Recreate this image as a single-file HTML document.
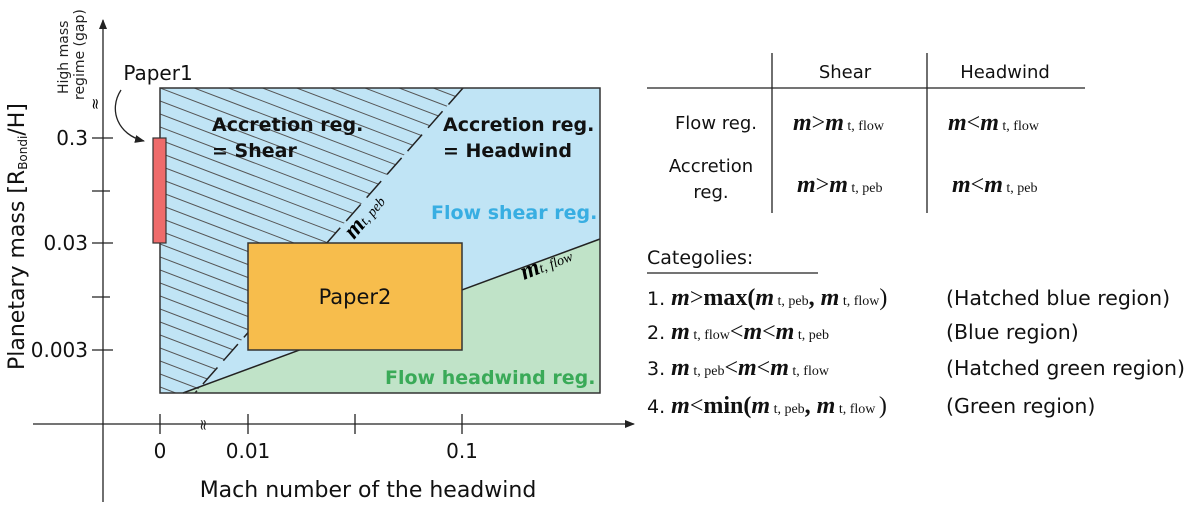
<!DOCTYPE html>
<html><head><meta charset="utf-8"><style>
html,body{margin:0;padding:0;background:#fff;}
svg{display:block;}
.s{font-family:"DejaVu Sans","Liberation Sans",sans-serif;}
.m{font-family:"Liberation Serif",serif;font-style:italic;font-weight:bold;}
.r{font-family:"Liberation Serif",serif;}
</style></head><body>
<svg width="1200" height="509" viewBox="0 0 1200 509" xmlns="http://www.w3.org/2000/svg">
<defs>
<clipPath id="hc"><polygon points="160,88 463,88 195,393 160,393"/></clipPath>
<marker id="ar" markerWidth="10" markerHeight="10" refX="9" refY="5" orient="auto" markerUnits="userSpaceOnUse"><path d="M0,1 L10,5 L0,9 z" fill="#222"/></marker>
</defs>
<rect x="160" y="88" width="440" height="305" fill="#c0e4f5"/>
<polygon points="183,393 600,239 600,393" fill="#c0e3c8"/>
<g clip-path="url(#hc)" stroke="#555" stroke-width="1">
<line x1="160" y1="62" x2="520" y2="199"/><line x1="160" y1="75" x2="520" y2="212"/><line x1="160" y1="88" x2="520" y2="225"/><line x1="160" y1="101" x2="520" y2="238"/><line x1="160" y1="114" x2="520" y2="251"/><line x1="160" y1="127" x2="520" y2="264"/><line x1="160" y1="140" x2="520" y2="277"/><line x1="160" y1="153" x2="520" y2="290"/><line x1="160" y1="166" x2="520" y2="303"/><line x1="160" y1="179" x2="520" y2="316"/><line x1="160" y1="192" x2="520" y2="329"/><line x1="160" y1="205" x2="520" y2="342"/><line x1="160" y1="218" x2="520" y2="355"/><line x1="160" y1="231" x2="520" y2="368"/><line x1="160" y1="244" x2="520" y2="381"/><line x1="160" y1="257" x2="520" y2="394"/><line x1="160" y1="270" x2="520" y2="407"/><line x1="160" y1="283" x2="520" y2="420"/><line x1="160" y1="296" x2="520" y2="433"/><line x1="160" y1="309" x2="520" y2="446"/><line x1="160" y1="322" x2="520" y2="459"/><line x1="160" y1="335" x2="520" y2="472"/><line x1="160" y1="348" x2="520" y2="485"/><line x1="160" y1="361" x2="520" y2="498"/><line x1="160" y1="374" x2="520" y2="511"/><line x1="160" y1="387" x2="520" y2="524"/><line x1="160" y1="49" x2="520" y2="186"/><line x1="160" y1="36" x2="520" y2="173"/><line x1="160" y1="23" x2="520" y2="160"/><line x1="160" y1="10" x2="520" y2="147"/><line x1="160" y1="-3" x2="520" y2="134"/><line x1="160" y1="-16" x2="520" y2="121"/><line x1="160" y1="-29" x2="520" y2="108"/><line x1="160" y1="-42" x2="520" y2="95"/>
</g>
<line x1="463" y1="88" x2="195" y2="393" stroke="#222" stroke-width="1.5" stroke-dasharray="22,9"/>
<line x1="183" y1="393" x2="600" y2="239" stroke="#222" stroke-width="1.5"/>
<rect x="160" y="88" width="440" height="305" fill="none" stroke="#333" stroke-width="1.5"/>
<rect x="248" y="243" width="214" height="107" fill="#f7bd4c" stroke="#333" stroke-width="1.5"/>
<rect x="153" y="138" width="13" height="105" fill="#ee6b6b" stroke="#333" stroke-width="1.2"/>
<line x1="103" y1="502" x2="103" y2="20" stroke="#222" stroke-width="1.3" marker-end="url(#ar)"/>
<line x1="33" y1="424" x2="634" y2="424" stroke="#222" stroke-width="1.3" marker-end="url(#ar)"/>
<g stroke="#222" stroke-width="1.3">
<line x1="92" y1="138" x2="113" y2="138"/><line x1="92" y1="191" x2="110" y2="191"/><line x1="92" y1="243" x2="113" y2="243"/><line x1="92" y1="297" x2="110" y2="297"/><line x1="92" y1="350" x2="113" y2="350"/>
<line x1="160" y1="414" x2="160" y2="434"/><line x1="248" y1="414" x2="248" y2="434"/><line x1="355" y1="414" x2="355" y2="434"/><line x1="462" y1="414" x2="462" y2="434"/>
</g>
<text x="96" y="108" class="s" font-size="15" text-anchor="middle" transform="rotate(-90 96 104)">≈</text>
<text x="203" y="430" class="s" font-size="15" text-anchor="middle" transform="rotate(-90 203 425)" fill="#222">≈</text>
<g class="s" font-size="20" fill="#111">
<text x="88" y="145" text-anchor="end">0.3</text>
<text x="88" y="250" text-anchor="end">0.03</text>
<text x="88" y="357" text-anchor="end">0.003</text>
<text x="160" y="458" text-anchor="middle">0</text>
<text x="248" y="458" text-anchor="middle">0.01</text>
<text x="462" y="458" text-anchor="middle">0.1</text>
<text x="368" y="497" text-anchor="middle" font-size="22">Mach number of the headwind</text>
<text x="158" y="80" text-anchor="middle">Paper1</text>
<text x="355" y="304" text-anchor="middle" font-size="21">Paper2</text>
<text x="0" y="0" font-size="22" transform="translate(24,370) rotate(-90)">Planetary mass [R<tspan font-size="12" dy="3">Bondi</tspan><tspan dy="-3">/H]</tspan></text>
</g>
<g class="s" font-size="14" fill="#222">
<text transform="translate(68,94) rotate(-90)">High mass</text>
<text transform="translate(84,100) rotate(-90)">regime (gap)</text>
</g>
<path d="M121,90 C108,110 118,135 144,141" fill="none" stroke="#222" stroke-width="1.3" marker-end="url(#ar)"/>
<g class="s" font-size="19" font-weight="bold" fill="#111">
<text x="212" y="131">Accretion reg.</text>
<text x="212" y="157">= Shear</text>
<text x="443" y="131">Accretion reg.</text>
<text x="443" y="157">= Headwind</text>
<text x="431" y="219" fill="#38aee2">Flow shear reg.</text>
<text x="385" y="384" fill="#3aaa58">Flow headwind reg.</text>
</g>
<text class="m" font-size="24" transform="translate(354,240) rotate(-50)">m<tspan class="r" font-size="14" font-weight="normal">t, peb</tspan></text>
<text class="m" font-size="24" transform="translate(524,280) rotate(-22)">m<tspan class="r" font-size="14" font-weight="normal">t, flow</tspan></text>
<g stroke="#222" stroke-width="1.3">
<line x1="647" y1="88" x2="1085" y2="88"/>
<line x1="772" y1="53" x2="772" y2="213"/>
<line x1="927" y1="53" x2="927" y2="213"/>
<line x1="647" y1="273" x2="818" y2="273"/>
</g>
<g class="s" font-size="18" fill="#111">
<text x="845" y="78" text-anchor="middle">Shear</text>
<text x="1005" y="78" text-anchor="middle">Headwind</text>
<text x="757" y="129" text-anchor="end">Flow reg.</text>
<text x="711" y="172" text-anchor="middle">Accretion</text>
<text x="711" y="198" text-anchor="middle">reg.</text>
<text x="647" y="264" font-size="19">Categolies:</text>
</g>
<g fill="#111" font-size="24">
<text x="793" y="130"><tspan class="m">m</tspan><tspan class="r">&gt;</tspan><tspan class="m">m</tspan><tspan class="r" font-size="14"> t, flow</tspan></text>
<text x="948" y="130"><tspan class="m">m</tspan><tspan class="r">&lt;</tspan><tspan class="m">m</tspan><tspan class="r" font-size="14"> t, flow</tspan></text>
<text x="797" y="192"><tspan class="m">m</tspan><tspan class="r">&gt;</tspan><tspan class="m">m</tspan><tspan class="r" font-size="14"> t, peb</tspan></text>
<text x="952" y="192"><tspan class="m">m</tspan><tspan class="r">&lt;</tspan><tspan class="m">m</tspan><tspan class="r" font-size="14"> t, peb</tspan></text>
</g>
<g font-size="24" fill="#111">
<text x="647" y="305"><tspan class="s" font-size="19">1. </tspan><tspan class="m">m</tspan><tspan class="r">&gt;</tspan><tspan class="r" font-weight="bold">max(</tspan><tspan class="m">m</tspan><tspan class="r" font-size="14"> t, peb</tspan><tspan class="r" font-weight="bold">, </tspan><tspan class="m">m</tspan><tspan class="r" font-size="14"> t, flow</tspan><tspan class="r">)</tspan></text>
<text x="647" y="339"><tspan class="s" font-size="19">2. </tspan><tspan class="m">m</tspan><tspan class="r" font-size="14"> t, flow</tspan><tspan class="r">&lt;</tspan><tspan class="m">m</tspan><tspan class="r">&lt;</tspan><tspan class="m">m</tspan><tspan class="r" font-size="14"> t, peb</tspan></text>
<text x="647" y="375"><tspan class="s" font-size="19">3. </tspan><tspan class="m">m</tspan><tspan class="r" font-size="14"> t, peb</tspan><tspan class="r">&lt;</tspan><tspan class="m">m</tspan><tspan class="r">&lt;</tspan><tspan class="m">m</tspan><tspan class="r" font-size="14"> t, flow</tspan></text>
<text x="647" y="413"><tspan class="s" font-size="19">4. </tspan><tspan class="m">m</tspan><tspan class="r">&lt;</tspan><tspan class="r" font-weight="bold">min(</tspan><tspan class="m">m</tspan><tspan class="r" font-size="14"> t, peb</tspan><tspan class="r" font-weight="bold">, </tspan><tspan class="m">m</tspan><tspan class="r" font-size="14"> t, flow </tspan><tspan class="r">)</tspan></text>
</g>
<g class="s" font-size="20.5" fill="#111">
<text x="946" y="305">(Hatched blue region)</text>
<text x="946" y="339">(Blue region)</text>
<text x="946" y="375">(Hatched green region)</text>
<text x="946" y="413">(Green region)</text>
</g>
</svg>
</body></html>
